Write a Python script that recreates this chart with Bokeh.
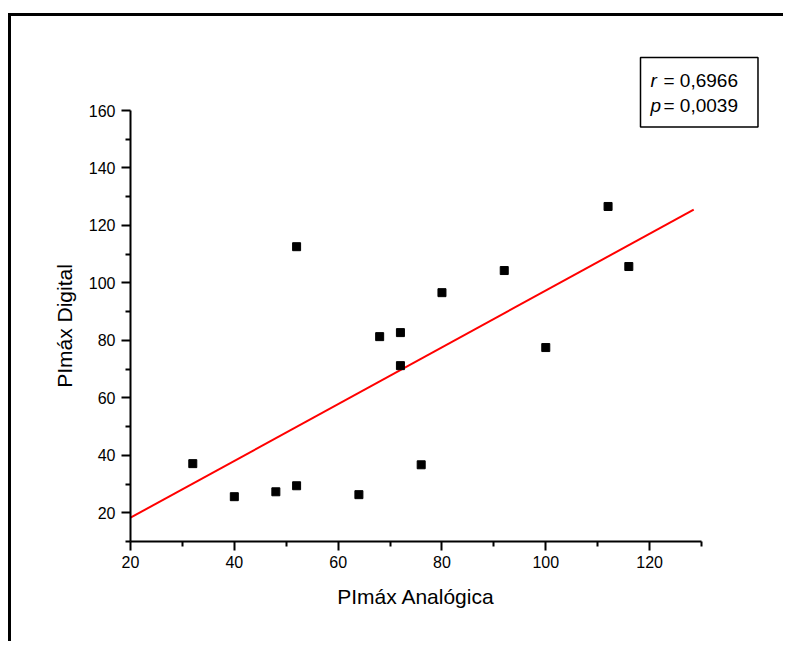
from bokeh.plotting import figure
from bokeh.models import Label, FixedTicker, Range1d
from bokeh.embed import file_html
from bokeh.resources import INLINE

# data
analog = [32, 40, 48, 52, 64, 52, 68, 72, 72, 76, 80, 92, 100, 112, 116]
digital = [37.1, 25.6, 27.3, 29.4, 26.3, 112.6, 81.3, 82.7, 71.2, 36.7, 96.6, 104.3, 77.5, 126.6, 105.7]
fit_x = [20, 128.5]
fit_y = [18.3, 125.5]
x_major = [20, 40, 60, 80, 100, 120]
x_minor = [30, 50, 70, 90, 110, 130]
y_major = [20, 40, 60, 80, 100, 120, 140, 160]
y_minor = [10, 30, 50, 70, 90, 110, 130, 150]
stat_symbols = ["r", "p"]
stat_values = ["= 0,6966", "= 0,0039"]

FONT = "Liberation Sans"
OX, OY = 11, 16           # canvas origin on the page (after margin + 3px border)
W, H = 775, 628
PL, PR, PT, PB = 130, 701, 110, 541        # frame edges on the page
FL, FR, FT, FB = PL - OX, PR - OX, PT - OY, PB - OY  # frame edges in canvas coords

p = figure(width=W, height=H, output_backend="svg", toolbar_location=None,
           x_range=Range1d(20, 130), y_range=Range1d(10, 160),
           min_border_left=FL, min_border_right=W - FR,
           min_border_top=FT, min_border_bottom=H - FB)
p.styles = {"margin-left": "8px", "margin-top": "13px",
            "border-top": "3px solid black", "border-left": "3px solid black"}
p.outline_line_color = None
p.xgrid.visible = False
p.ygrid.visible = False
p.background_fill_color = "white"
p.border_fill_color = "white"

for ax, maj, mnr in ((p.xaxis[0], x_major, x_minor), (p.yaxis[0], y_major, y_minor)):
    ax.ticker = FixedTicker(ticks=maj, minor_ticks=mnr)
    ax.axis_line_width = 2
    ax.axis_line_color = "black"
    ax.major_tick_line_width = 2
    ax.minor_tick_line_width = 2
    ax.major_tick_in = 0
    ax.minor_tick_in = 0
    ax.major_tick_out = 9
    ax.minor_tick_out = 5
    ax.major_label_text_font = FONT
    ax.major_label_text_font_size = "16px"
    ax.major_label_text_color = "black"
    ax.axis_label_text_font = FONT
    ax.axis_label_text_font_size = "21px"
    ax.axis_label_text_font_style = "normal"
    ax.axis_label_text_color = "black"

p.xaxis.axis_label = "PImáx Analógica"
p.yaxis.axis_label = "PImáx Digital"
p.xaxis.major_label_standoff = 5
p.yaxis.major_label_standoff = 6
p.xaxis.axis_label_standoff = 14
p.yaxis.axis_label_standoff = 10

p.line(fit_x, fit_y, line_color="red", line_width=2)
p.scatter(analog, digital, marker="square", size=8, fill_color="black", line_color="black")

# statistics box: bordered label in the top side panel (not clipped to the frame)
# panel coords: x from frame-left, y upward from frame-top
box = Label(x=640 - PL, y=PT - 57, x_units="screen", y_units="screen",
            text="\n".join(stat_values), text_font=FONT, text_font_size="19px",
            text_color="black", text_align="left", text_baseline="top",
            text_line_height=1.21,
            padding=dict(left=23, right=20, top=12, bottom=11),
            border_line_color="black", border_line_width=1.5,
            background_fill_color="white")
p.add_layout(box, "above")

# italic symbols in the right side panel: x from frame-right, y upward from frame-bottom
sym = Label(x=650 - PR, y=PB - 69, x_units="screen", y_units="screen",
            text="\n".join(stat_symbols), text_font=FONT, text_font_size="19px",
            text_color="black", text_font_style="italic", text_align="left",
            text_baseline="top", text_line_height=1.21)
p.add_layout(sym, "right")

open("out.html", "w").write(file_html(p, INLINE))
